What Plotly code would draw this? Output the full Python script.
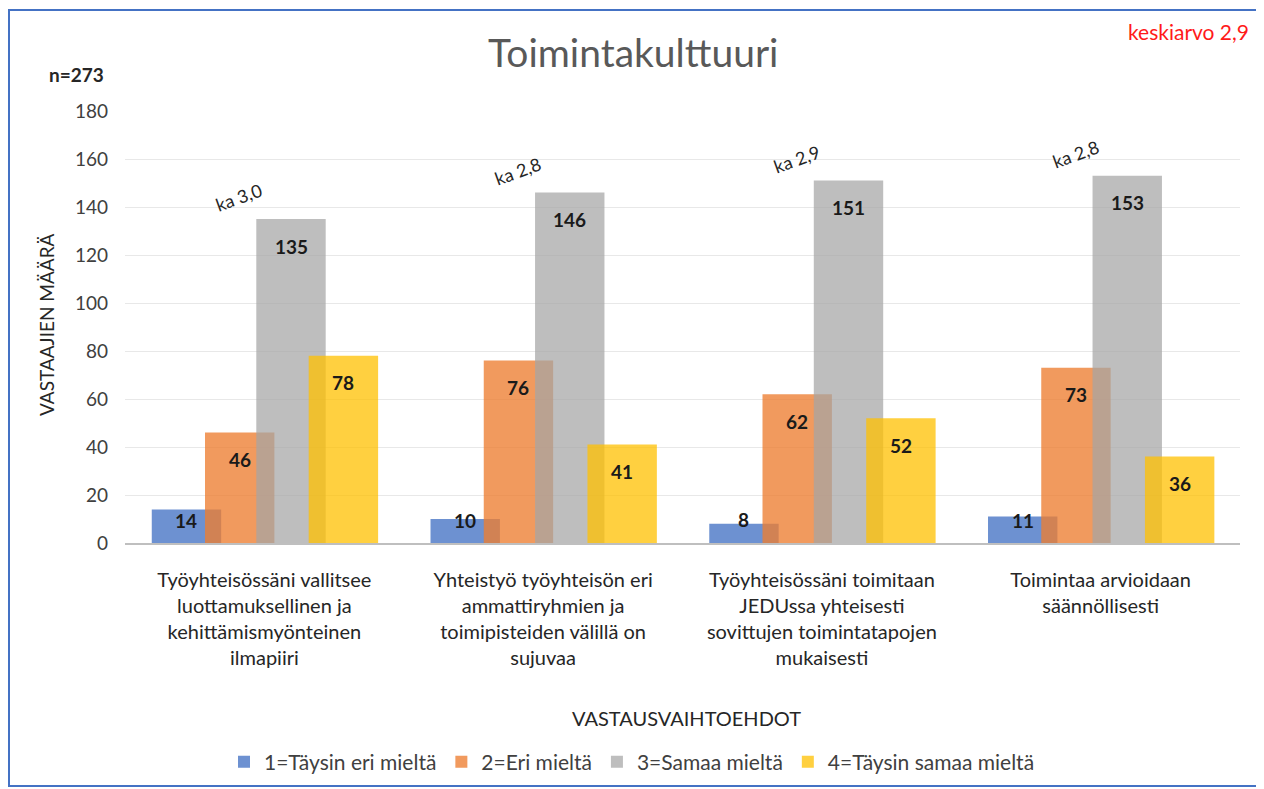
import plotly.graph_objects as go

categories = [
    "Työyhteisössäni vallitsee<br>luottamuksellinen ja<br>kehittämismyönteinen<br>ilmapiiri",
    "Yhteistyö työyhteisön eri<br>ammattiryhmien ja<br>toimipisteiden välillä on<br>sujuvaa",
    "Työyhteisössäni toimitaan<br>JEDUssa yhteisesti<br>sovittujen toimintatapojen<br>mukaisesti",
    "Toimintaa arvioidaan<br>säännöllisesti",
]
series_names = ["1=Täysin eri mieltä", "2=Eri mieltä", "3=Samaa mieltä", "4=Täysin samaa mieltä"]
v1 = [14, 10, 8, 11]
v2 = [46, 76, 62, 73]
v3 = [135, 146, 151, 153]
v4 = [78, 41, 52, 36]
means = ["ka 3,0", "ka 2,8", "ka 2,9", "ka 2,8"]
y_ticks = [0, 20, 40, 60, 80, 100, 120, 140, 160, 180]
Y_MAX = 180

colors = ["rgba(68,114,196,0.78)", "rgba(237,125,49,0.78)",
          "rgba(165,165,165,0.72)", "rgba(255,192,0,0.75)"]
offsets = [-0.404, -0.213, -0.029, 0.159]
bar_w = 0.249
FONT = "Lato, 'Open Sans', sans-serif"

# page body has an 8px margin; work in page pixel coordinates
BODY = 8
PL, PR, PT, PB = 125, 1240, 111, 543   # plot area in page pixels
FW, FH = 1264 - BODY, 789 - BODY
CAT_PX = (PR - PL) / len(categories)
UNIT_PX = (PB - PT) / Y_MAX

def px(xp):
    return (xp - PL) / (PR - PL)

def py(yp):
    return (PB - yp) / (PB - PT)

fig = go.Figure()
annotations = []
for name, vals, col, off in zip(series_names, [v1, v2, v3, v4], colors, offsets):
    fig.add_trace(go.Bar(
        x=categories, y=vals, name=name,
        marker=dict(color=col, line=dict(width=0)),
        offset=off, width=bar_w,
        hoverinfo="x+y+name",
    ))
    xs = (off + bar_w / 2) * CAT_PX
    for cat, v in zip(categories, vals):
        # Excel-like "inside end" label with padding, clamped for short bars
        drop = min(27, v * UNIT_PX - 23)
        annotations.append(dict(
            x=cat, y=v, xref="x", yref="y", text="<b>%d</b>" % v, showarrow=False,
            xshift=xs, yshift=-drop, xanchor="center", yanchor="middle",
            font=dict(family=FONT, size=19, color="#1a1a1a"),
        ))

for cat, m, g in zip(categories, means, v3):
    annotations.append(dict(
        x=cat, y=g + 9, xref="x", yref="y", text=m, showarrow=False,
        textangle=-20, xshift=-25,
        font=dict(family=FONT, size=18, color="#262626"),
    ))

annotations += [
    dict(x=px(633), y=py(52), xref="paper", yref="paper", text="Toimintakulttuuri",
         showarrow=False, xanchor="center", yanchor="middle",
         font=dict(family=FONT, size=39, color="#595959")),
    dict(x=px(106), y=py(74), xref="paper", yref="paper", text="<b>n=273</b>",
         showarrow=False, xanchor="right", yanchor="middle",
         font=dict(family=FONT, size=19, color="#262626")),
    dict(x=px(1251), y=py(31), xref="paper", yref="paper", text="keskiarvo 2,9",
         showarrow=False, xanchor="right", yanchor="middle",
         font=dict(family=FONT, size=21, color="#ff1a1a")),
    dict(x=px(686), y=py(718), xref="paper", yref="paper", text="VASTAUSVAIHTOEHDOT",
         showarrow=False, xanchor="center", yanchor="middle",
         font=dict(family=FONT, size=20, color="#262626")),
    dict(x=px(46), y=py(325), xref="paper", yref="paper", text="VASTAAJIEN MÄÄRÄ",
         showarrow=False, xanchor="center", yanchor="middle", textangle=-90,
         font=dict(family=FONT, size=19, color="#262626")),
]

fig.update_layout(
    width=FW, height=FH,
    barmode="overlay",
    plot_bgcolor="white", paper_bgcolor="white",
    margin=dict(l=PL - BODY, r=FW - (PR - BODY), t=PT - BODY, b=FH - (PB - BODY),
                autoexpand=False),
    font=dict(family=FONT, color="#404040"),
    showlegend=True,
    legend=dict(orientation="h", x=px(632), y=py(762), xanchor="center", yanchor="middle",
                font=dict(family=FONT, size=21, color="#404040"),
                itemwidth=30, traceorder="normal"),
    annotations=annotations,
    shapes=[dict(type="rect", xref="paper", yref="paper",
                 x0=px(BODY + 1), x1=px(1258), y0=py(786), y1=py(10),
                 line=dict(color="#4472C4", width=2), fillcolor="rgba(0,0,0,0)", layer="below")],
)
fig.update_xaxes(
    showgrid=False, showline=True, linecolor="#BFBFBF", linewidth=2,
    tickfont=dict(family=FONT, size=20, color="#262626"), ticks="",
    ticklabelstandoff=18,
    range=[-0.5, 3.5],
)
fig.update_yaxes(
    range=[0, Y_MAX], tickvals=y_ticks, showgrid=True, gridcolor="#E8E8E8", gridwidth=1,
    zeroline=False, showline=False, ticks="",
    ticklabelstandoff=16,
    tickfont=dict(family=FONT, size=19, color="#404040"),
)

fig.write_html("out.html")
